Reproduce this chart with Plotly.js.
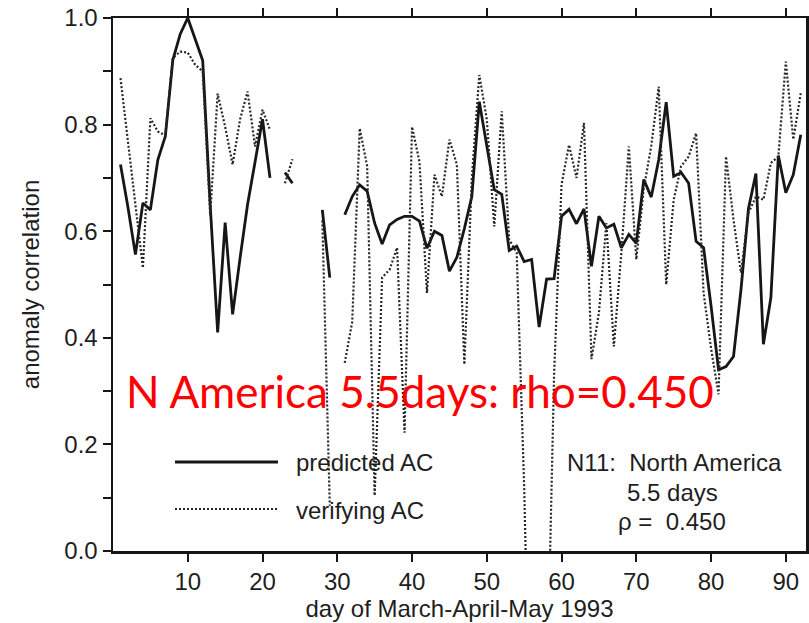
<!DOCTYPE html>
<html>
<head>
<meta charset="utf-8">
<script src="https://cdn.plot.ly/plotly-3.0.1.min.js"></script>
<style>
  html, body { margin: 0; padding: 0; background: #ffffff; }
  #chart { width: 809px; height: 623px; }
</style>
</head>
<body>
<div id="chart"></div>
<script>
// Day of March-April-May 1993
const days = [1,2,3,4,5,6,7,8,9,10,11,12,13,14,15,16,17,18,19,20,
  21,22,23,24,25,26,27,28,29,30,31,32,33,34,35,36,37,38,39,40,
  41,42,43,44,45,46,47,48,49,50,51,52,53,54,55,56,57,58,59,60,
  61,62,63,64,65,66,67,68,69,70,71,72,73,74,75,76,77,78,79,80,
  81,82,83,84,85,86,87,88,89,90,91,92];

// predicted anomaly correlation (solid)
const predictedAC = [0.725,0.645,0.556,0.653,0.64,0.734,0.778,0.921,0.97,1.0,
  0.96,0.92,0.65,0.41,0.616,0.444,0.55,0.65,0.73,0.81,
  0.70,null,0.71,0.69,null,null,null,0.64,0.513,null,
  0.631,0.665,0.687,0.675,0.615,0.576,0.612,0.622,0.628,0.628,
  0.619,0.568,0.60,0.592,0.525,0.551,0.605,0.665,0.843,0.76,
  0.678,0.669,0.564,0.572,0.543,0.547,0.42,0.51,0.511,0.628,
  0.641,0.614,0.642,0.534,0.628,0.606,0.613,0.569,0.594,0.577,
  0.697,0.664,0.734,0.842,0.703,0.71,0.69,0.581,0.569,0.46,
  0.34,0.346,0.365,0.49,0.642,0.708,0.388,0.475,0.742,0.672,
  0.706,0.781];

// verifying anomaly correlation (dotted)
const verifyingAC = [0.887,0.77,0.656,0.531,0.812,0.787,0.78,0.925,0.937,0.935,
  0.912,0.90,0.63,0.858,0.796,0.725,0.81,0.862,0.759,0.828,
  0.79,null,0.69,0.735,null,null,null,0.62,0.085,null,
  0.353,0.43,0.793,0.722,0.104,0.513,0.528,0.569,0.222,0.796,
  0.73,0.484,0.706,0.665,0.772,0.725,0.35,0.70,0.893,0.81,
  0.609,0.825,0.584,0.56,0.12,-0.5,-0.5,-0.3,0.33,0.688,
  0.762,0.70,0.803,0.36,0.447,0.615,0.384,0.56,0.759,0.547,
  0.68,0.76,0.871,0.50,0.659,0.722,0.74,0.784,0.484,0.38,
  0.294,0.74,0.622,0.522,0.634,0.665,0.659,0.728,0.74,0.918,
  0.772,0.859];

const xTicks = [10,20,30,40,50,60,70,80,90];
const yTicks = [0,0.2,0.4,0.6,0.8,1.0];

const ink = '#161616';
const txtFont = {family: 'Liberation Sans, Arial, sans-serif', size: 24, color: '#1e1e1e'};

const traces = [
  {x: days, y: predictedAC, type: 'scatter', mode: 'lines', name: 'predicted AC',
   line: {color: ink, width: 2.8}, connectgaps: false, showlegend: false},
  {x: days, y: verifyingAC, type: 'scatter', mode: 'lines', name: 'verifying AC',
   line: {color: '#262626', width: 2.2, dash: '2px,2px'}, connectgaps: false, showlegend: false}
];

function px2x(p) { return (p - 113) / 693; }
function px2y(p) { return (551 - p) / 533; }

const layout = {
  width: 809, height: 623,
  margin: {l: 113, r: 3, t: 18, b: 72},
  paper_bgcolor: '#ffffff', plot_bgcolor: '#ffffff',
  showlegend: false,
  font: txtFont,
  xaxis: {
    range: [0, 92.7], tickvals: xTicks, ticktext: xTicks.map(String),
    ticks: 'outside', ticklen: 8, tickwidth: 2, tickcolor: ink,
    showline: true, linecolor: ink, linewidth: 2.5, mirror: 'ticks',
    showgrid: false, zeroline: false,
    tickfont: txtFont,
    title: {text: 'day of March-April-May 1993', font: txtFont, standoff: 2}
  },
  yaxis: {
    range: [0, 1], tickvals: yTicks, ticktext: yTicks.map(v => v.toFixed(1)),
    ticks: 'outside', ticklen: 8, tickwidth: 2, tickcolor: ink,
    minor: {dtick: 0.1, ticks: 'outside', ticklen: 8, tickwidth: 2, tickcolor: ink, showgrid: false},
    showline: true, linecolor: ink, linewidth: 2.5, mirror: true,
    showgrid: false, zeroline: false,
    tickfont: txtFont,
    title: {text: 'anomaly correlation', font: txtFont, standoff: 18}
  },
  shapes: [
    {type: 'line', xref: 'paper', yref: 'paper', x0: px2x(175), x1: px2x(278), y0: px2y(462), y1: px2y(462),
     line: {color: ink, width: 2.8}},
    {type: 'line', xref: 'paper', yref: 'paper', x0: px2x(175), x1: px2x(278), y0: px2y(509), y1: px2y(509),
     line: {color: '#262626', width: 2.2, dash: '2px,2px'}}
  ],
  annotations: [
    {text: 'N America 5.5days: rho=0.450', xref: 'paper', yref: 'paper', x: px2x(124), y: px2y(391),
     xanchor: 'left', yanchor: 'middle', showarrow: false,
     font: {family: 'Lato, sans-serif', size: 44, color: '#ff0000'}},
    {text: 'predicted AC', xref: 'paper', yref: 'paper', x: px2x(294), y: px2y(462),
     xanchor: 'left', yanchor: 'middle', showarrow: false, font: txtFont},
    {text: 'verifying AC', xref: 'paper', yref: 'paper', x: px2x(294), y: px2y(510),
     xanchor: 'left', yanchor: 'middle', showarrow: false, font: txtFont},
    {text: 'N11:\u00a0 North America', xref: 'paper', yref: 'paper', x: px2x(674), y: px2y(462),
     xanchor: 'center', yanchor: 'middle', showarrow: false, font: txtFont},
    {text: '5.5 days', xref: 'paper', yref: 'paper', x: px2x(672), y: px2y(492),
     xanchor: 'center', yanchor: 'middle', showarrow: false, font: txtFont},
    {text: '\u03c1 =\u00a0 0.450', xref: 'paper', yref: 'paper', x: px2x(672), y: px2y(521),
     xanchor: 'center', yanchor: 'middle', showarrow: false, font: txtFont}
  ]
};

Plotly.newPlot('chart', traces, layout, {staticPlot: true, displayModeBar: false});
</script>
</body>
</html>
